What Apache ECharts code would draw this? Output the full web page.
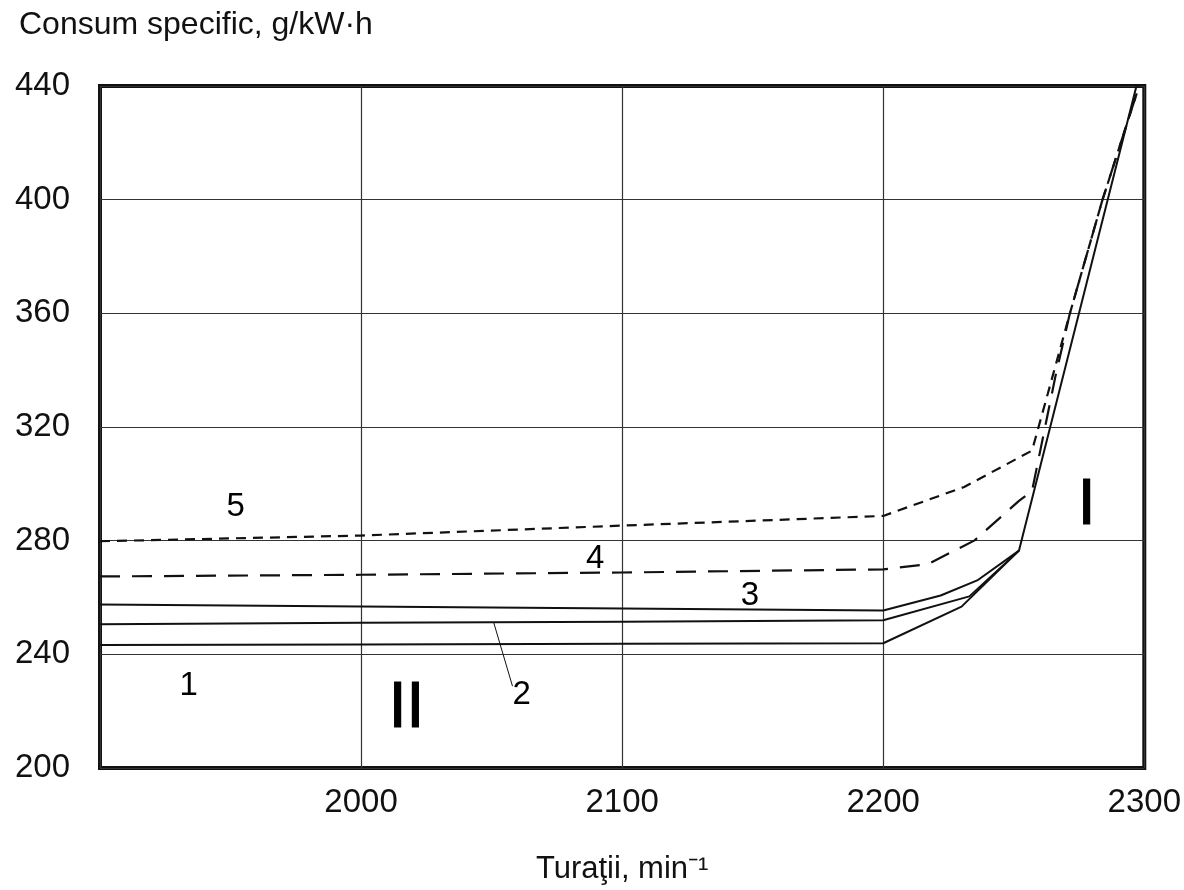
<!DOCTYPE html>
<html>
<head>
<meta charset="utf-8">
<script src="https://cdn.jsdelivr.net/npm/echarts@6/dist/echarts.min.js"></script>
<style>
  html, body { margin: 0; padding: 0; background: #fff; }
  #chart { width: 1184px; height: 890px; }
</style>
</head>
<body>
<div id="chart"></div>
<script>
const FONT = '"Liberation Sans", Arial, sans-serif';

// curves [rpm, g/kWh]
const curve1 = [[1900, 243.3], [2000, 243.5], [2100, 243.7], [2200, 243.9], [2230, 256.8], [2252, 276.5], [2297, 440]];
const curve2 = [[1900, 250.6], [2000, 251.1], [2100, 251.5], [2200, 252], [2233, 260.4], [2252, 276.5]];
const curve3 = [[1900, 257.5], [2000, 256.8], [2100, 256.1], [2200, 255.4], [2222, 260.7], [2236, 266], [2252, 276.5]];
const curve4 = [[1900, 267.4], [2000, 268], [2100, 268.8], [2200, 269.9], [2217, 271.7], [2235, 280.1], [2252, 294], [2257, 297.5], [2266, 338], [2271.5, 360], [2284, 400], [2298, 440]];
const curve5 = [[1900, 279.8], [2000, 281.8], [2100, 285.3], [2200, 288.7], [2231, 298.9], [2257, 311.7], [2263, 331.6], [2271.5, 360], [2284, 400], [2298, 440]];

// leader line for label 2
const leader2 = [[2050.8, 251.2], [2058, 228.8]];

// text annotations in data units
const notes = [
  { name: '5', value: [1952, 291.9], size: 33 },
  { name: '4', value: [2089.7, 273.7], size: 33 },
  { name: '3', value: [2148.9, 260.7], size: 33 },
  { name: '2', value: [2061.5, 225.6], size: 33 },
  { name: '1', value: [1934, 228.9], size: 33 },
  { name: 'II', value: [2017.4, 220.7], size: 64 },
  { name: 'I', value: [2277.9, 291.9], size: 64 }
];

const xTicks = [1900, 2300, 100];
const yTicks = [200, 440, 40];

const chart = echarts.init(document.getElementById('chart'));

function line(data, type, width) {
  return {
    type: 'line',
    data: data,
    symbol: 'none',
    silent: true,
    lineStyle: { color: '#111', width: width, type: type }
  };
}

chart.setOption({
  animation: false,
  backgroundColor: '#fff',
  title: {
    text: 'Consum specific, g/kW·h',
    left: 14,
    top: 4,
    textStyle: { fontFamily: FONT, fontSize: 32, fontWeight: 'normal', color: '#111' }
  },
  grid: {
    left: 100, top: 86, width: 1048, height: 684,
    show: true, borderWidth: 4, borderColor: '#111'
  },
  xAxis: {
    type: 'value',
    min: xTicks[0], max: xTicks[1], interval: xTicks[2],
    name: 'Turaţii, min⁻¹',
    nameLocation: 'middle',
    nameGap: 86,
    nameTextStyle: { fontFamily: FONT, fontSize: 31, color: '#111', verticalAlign: 'top' },
    axisLine: { show: false },
    axisTick: { show: false },
    axisLabel: {
      margin: 18,
      fontFamily: FONT, fontSize: 33, color: '#111',
      formatter: v => (v === xTicks[0] ? '' : String(v))
    },
    splitLine: { show: true, lineStyle: { color: '#333', width: 1.2 } }
  },
  yAxis: {
    type: 'value',
    min: yTicks[0], max: yTicks[1], interval: yTicks[2],
    axisLine: { show: false },
    axisTick: { show: false },
    axisLabel: { margin: 30, fontFamily: FONT, fontSize: 33, color: '#111' },
    splitLine: { show: true, lineStyle: { color: '#333', width: 1.2 } }
  },
  series: [
    line(curve1, 'solid', 2),
    line(curve2, 'solid', 2),
    line(curve3, 'solid', 2),
    line(curve4, [20, 12], 2.2),
    line(curve5, [10, 7], 2.2),
    line(leader2, 'solid', 1),
    {
      type: 'scatter',
      silent: true,
      symbolSize: 1,
      z: 10,
      itemStyle: { color: 'rgba(0,0,0,0)', opacity: 1 },
      data: notes.map(n => ({
        name: n.name,
        value: n.value,
        label: {
          show: true,
          position: 'inside',
          formatter: n.name,
          fontFamily: FONT,
          fontSize: n.size,
          color: '#000',
          opacity: 1,
          textBorderColor: '#000',
          textBorderWidth: n.size > 40 ? 1.2 : 0
        }
      }))
    }
  ]
});
</script>
</body>
</html>
